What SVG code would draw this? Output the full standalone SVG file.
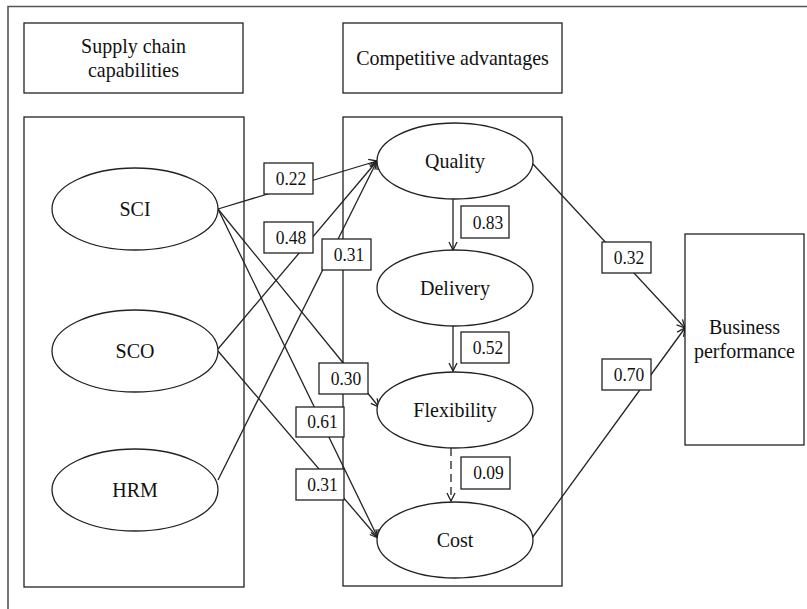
<svg xmlns="http://www.w3.org/2000/svg" width="807" height="609" viewBox="0 0 807 609">
<defs>
<style>
.frame{fill:none;stroke:#555;stroke-width:1.6}
.box{fill:#fff;stroke:#222;stroke-width:1.3}
.ell{fill:#fff;stroke:#222;stroke-width:1.3}
text{font-family:'Liberation Serif','DejaVu Serif','Times New Roman',serif;fill:#111;text-anchor:middle}
.t{font-size:20px}
.n{font-size:17.5px}
.c{fill:none;stroke:#222;stroke-width:1.3;marker-end:url(#arr)}
</style>
<marker id="arr" markerUnits="userSpaceOnUse" markerWidth="12" markerHeight="12" refX="9" refY="5" orient="auto">
<path d="M1,1 L9,5 L1,9" fill="none" stroke="#222" stroke-width="1.3"/>
</marker>
</defs>
<rect width="807" height="609" fill="#fff"/>
<path class="frame" d="M8,609 L8,6.5 L807,6.5"/>
<g id="hdr-supply"><rect class="box" x="24" y="23" width="219" height="70"/><text class="t" transform="translate(133.5,53) scale(1,1.1)">Supply chain</text><text class="t" transform="translate(133.5,77) scale(1,1.1)">capabilities</text></g>
<g id="hdr-comp"><rect class="box" x="343" y="23" width="219" height="70"/><text class="t" transform="translate(452.5,65) scale(1,1.1)">Competitive advantages</text></g>
<g id="grp-left"><rect class="box" x="24" y="117" width="220" height="470"/></g>
<g id="grp-mid"><rect class="box" x="343" y="117" width="219" height="469"/></g>
<g id="connectors">
<line class="c" x1="218" y1="209" x2="377" y2="161"/>
<line class="c" x1="218" y1="349" x2="377" y2="161"/>
<line class="c" x1="218" y1="480" x2="377" y2="161"/>
<line class="c" x1="218" y1="209" x2="379" y2="407"/>
<line class="c" x1="218" y1="209" x2="378" y2="538"/>
<line class="c" x1="218" y1="351" x2="378" y2="538"/>
<line class="c" x1="453" y1="199" x2="453" y2="250"/>
<line class="c" x1="453" y1="326" x2="453" y2="371"/>
<line class="c" x1="451" y1="448" x2="451" y2="501" stroke-dasharray="8,5"/>
<line class="c" x1="532" y1="163" x2="685" y2="328"/>
<line class="c" x1="532" y1="538" x2="685" y2="328"/>
</g>
<g id="SCI"><ellipse class="ell" cx="135" cy="209" rx="83" ry="41"/><text class="t" transform="translate(135,216) scale(1,1.1)">SCI</text></g>
<g id="SCO"><ellipse class="ell" cx="135" cy="351" rx="83" ry="41"/><text class="t" transform="translate(135,358) scale(1,1.1)">SCO</text></g>
<g id="HRM"><ellipse class="ell" cx="135" cy="490" rx="83" ry="41"/><text class="t" transform="translate(135,497) scale(1,1.1)">HRM</text></g>
<g id="Quality"><ellipse class="ell" cx="455" cy="161" rx="78" ry="38"/><text class="t" transform="translate(455,168) scale(1,1.1)">Quality</text></g>
<g id="Delivery"><ellipse class="ell" cx="455" cy="288" rx="78" ry="38"/><text class="t" transform="translate(455,295) scale(1,1.1)">Delivery</text></g>
<g id="Flexibility"><ellipse class="ell" cx="455" cy="410" rx="78" ry="38"/><text class="t" transform="translate(455,417) scale(1,1.1)">Flexibility</text></g>
<g id="Cost"><ellipse class="ell" cx="455" cy="540" rx="78" ry="38"/><text class="t" transform="translate(455,547) scale(1,1.1)">Cost</text></g>
<g id="Business"><rect class="box" x="685" y="234" width="119" height="211"/><text class="t" transform="translate(744.5,334) scale(1,1.1)">Business</text><text class="t" transform="translate(744.5,358) scale(1,1.1)">performance</text></g>
<g id="labels">
<g><rect class="box" x="264" y="163" width="49" height="31"/><text class="n" transform="translate(291,184.5) scale(1,1.1)">0.22</text></g>
<g><rect class="box" x="264" y="222" width="49" height="31"/><text class="n" transform="translate(291,243.5) scale(1,1.1)">0.48</text></g>
<g><rect class="box" x="322" y="239" width="49" height="31"/><text class="n" transform="translate(349,260.5) scale(1,1.1)">0.31</text></g>
<g><rect class="box" x="319" y="363" width="49" height="31"/><text class="n" transform="translate(346,384.5) scale(1,1.1)">0.30</text></g>
<g><rect class="box" x="296" y="407" width="48" height="30"/><text class="n" transform="translate(322.5,428) scale(1,1.1)">0.61</text></g>
<g><rect class="box" x="296" y="469" width="48" height="31"/><text class="n" transform="translate(322.5,490.5) scale(1,1.1)">0.31</text></g>
<g><rect class="box" x="461" y="206" width="48" height="32"/><text class="n" transform="translate(488,228.5) scale(1,1.1)">0.83</text></g>
<g><rect class="box" x="461" y="332" width="48" height="31"/><text class="n" transform="translate(488,353.5) scale(1,1.1)">0.52</text></g>
<g><rect class="box" x="461" y="457" width="49" height="32"/><text class="n" transform="translate(488.5,479) scale(1,1.1)">0.09</text></g>
<g><rect class="box" x="602" y="242" width="49" height="31"/><text class="n" transform="translate(629,263.5) scale(1,1.1)">0.32</text></g>
<g><rect class="box" x="602" y="359" width="49" height="31"/><text class="n" transform="translate(629,380.5) scale(1,1.1)">0.70</text></g>
</g>
</svg>
